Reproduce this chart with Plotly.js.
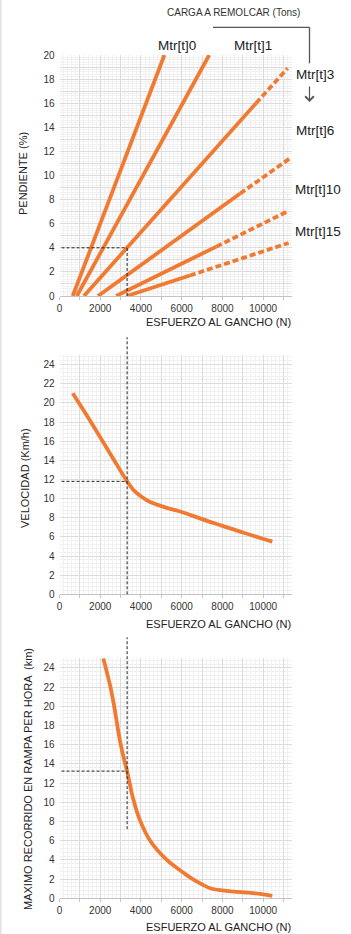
<!DOCTYPE html>
<html><head><meta charset="utf-8">
<script src="https://cdn.plot.ly/plotly-3.0.1.min.js"></script>
<style>html,body{margin:0;padding:0;background:#fff}#chart{width:351px;height:934px}</style>
</head><body><div id="chart"></div>
<script>
// ---------- DATA ----------
const gradeSeries = ['Mtr[t]0','Mtr[t]1','Mtr[t]3','Mtr[t]6','Mtr[t]10','Mtr[t]15'];
const gradeSolidX = [[650,5150],[850,7350],[1200,9650],[1890,8870],[2780,7700],[3300,6400]];
const gradeSolidY = [[0,20],[0,20],[0,16.0],[0,8.5],[0,4.1],[0,1.7]];
const gradeDashX  = [[],[],[9650,11200],[8870,11290],[7700,11170],[6400,11250]];
const gradeDashY  = [[],[],[16.0,18.9],[8.5,11.4],[4.1,7.0],[1.7,4.4]];

const speedX = [650,1600,2600,3320,3630,3960,4280,4610,5300,6000,7000,8000,9000,10450];
const speedY = [21.0,17.8,14.3,11.8,10.9,10.3,9.85,9.5,9.0,8.6,7.85,7.15,6.45,5.5];

const rangeX = [2150,2480,2650,2970,3190,3320,3600,3920,4450,5270,6000,6500,7000,7400,8000,8550,9500,10450];
const rangeY = [25,22.2,20.4,16.4,14.3,13.25,10.5,8.3,6.0,4.0,2.8,2.05,1.45,1.05,0.82,0.7,0.55,0.25];

const crossX = 3320;
const crossY = [4, 11.8, 13.25];

const xTickVals = [0,1000,2000,3000,4000,5000,6000,7000,8000,9000,10000,11000];
const xTickText = ['0','','2000','','4000','','6000','','8000','','10000',''];
const y1TickVals = [0,1,2,3,4,5,6,7,8,9,10,11,12,13,14,15,16,17,18,19,20];
const y1TickText = ['0','','2','','4','','6','','8','','10','','12','','14','','16','','18','','20'];
const y23TickVals = [0,2,4,6,8,10,12,14,16,18,20,22,24];

const titleCarga = 'CARGA A REMOLCAR (Tons)';
const xTitle = 'ESFUERZO AL GANCHO (N)';
const yTitles = ['PENDIENTE (%)','VELOCIDAD (Km/h)','MAXIMO RECORRIDO EN RAMPA PER HORA  (km)'];

// ---------- LAYOUT HELPERS ----------
const W = 351, H = 934;
const px = p => p / W;
const py = p => 1 - p / H;
const ORANGE = '#F07A32';
const FONT = 'Liberation Sans, Arial, sans-serif';
const xDom = [px(59.5), px(291.7)];
const yDoms = [[py(296), py(55)], [py(594.3), py(355)], [py(898.3), py(658.3)]];

function xAxis(dom, anchor) {
  return {domain: dom, anchor: anchor, range: [0, 11400], tickmode: 'array',
    tickvals: xTickVals, ticktext: xTickText, showgrid: true, gridcolor: '#dcdcdc', gridwidth: 1,
    minor: {tick0: 0, dtick: 200, showgrid: true, gridcolor: '#f1f1f1', gridwidth: 1},
    zeroline: false, showline: true, linecolor: '#c4c4c4', linewidth: 1,
    ticks: 'outside', ticklen: 3, tickcolor: '#c4c4c4',
    tickfont: {family: FONT, size: 10, color: '#333'}, fixedrange: true};
}
function yAxis(dom, anchor, rng, tv, tt, minorD) {
  return {domain: dom, anchor: anchor, range: rng, tickmode: 'array', tickvals: tv, ticktext: tt,
    showgrid: true, gridcolor: '#dcdcdc', gridwidth: 1,
    minor: {tick0: 0, dtick: minorD, showgrid: true, gridcolor: '#f1f1f1', gridwidth: 1},
    zeroline: false, showline: false, ticks: '', ticklabelstandoff: 4,
    tickfont: {family: FONT, size: 10, color: '#333'}, fixedrange: true};
}

// ---------- TRACES ----------
const traces = [];
gradeSeries.forEach((name, i) => {
  traces.push({x: gradeSolidX[i], y: gradeSolidY[i], xaxis: 'x', yaxis: 'y', mode: 'lines',
    name: name, line: {color: ORANGE, width: 3.8}, hoverinfo: 'skip'});
  if (gradeDashX[i].length) {
    traces.push({x: gradeDashX[i], y: gradeDashY[i], xaxis: 'x', yaxis: 'y', mode: 'lines',
      name: name, line: {color: ORANGE, width: 3.8, dash: '6px,3px'}, hoverinfo: 'skip'});
  }
});
traces.push({x: speedX, y: speedY, xaxis: 'x2', yaxis: 'y2', mode: 'lines',
  line: {color: ORANGE, width: 3.8, shape: 'spline', smoothing: 1}, hoverinfo: 'skip'});
traces.push({x: rangeX, y: rangeY, xaxis: 'x3', yaxis: 'y3', mode: 'lines',
  line: {color: ORANGE, width: 3.8, shape: 'spline', smoothing: 1}, hoverinfo: 'skip'});

// ---------- SHAPES ----------
const dashLine = {color: '#222', width: 1, dash: '3px,2px'};
const shapes = [
  {type: 'line', xref: 'x', yref: 'y', x0: 100, x1: crossX, y0: crossY[0], y1: crossY[0], line: dashLine},
  {type: 'line', xref: 'x', yref: 'y', x0: crossX, x1: crossX, y0: 0, y1: crossY[0], line: dashLine},
  {type: 'line', xref: 'x2', yref: 'y2', x0: 100, x1: crossX, y0: crossY[1], y1: crossY[1], line: dashLine},
  {type: 'line', xref: 'x2', yref: 'y2 domain', x0: crossX, x1: crossX, y0: 0, y1: (594.3 - 337.3) / 239.3, line: dashLine},
  {type: 'line', xref: 'x3', yref: 'y3', x0: 100, x1: crossX, y0: crossY[2], y1: crossY[2], line: dashLine},
  {type: 'line', xref: 'x3', yref: 'y3 domain', x0: crossX, x1: crossX, y0: 7.2 / 25, y1: (898.3 - 637.3) / 240, line: dashLine},
  // bracket
  {type: 'line', xref: 'paper', yref: 'paper', x0: px(213), x1: px(309.5), y0: py(27.3), y1: py(27.3), line: {color: '#555', width: 1.3}},
  {type: 'line', xref: 'paper', yref: 'paper', x0: px(309.5), x1: px(309.5), y0: py(27.3), y1: py(63.3), line: {color: '#555', width: 1.3}},
  // left page border
  {type: 'line', xref: 'paper', yref: 'paper', x0: px(0.8), x1: px(0.8), y0: 0, y1: 1, line: {color: '#e2e2e2', width: 1.6}}
];

// ---------- ANNOTATIONS ----------
const txt = (text, x, y, size, extra) => Object.assign({text: text, xref: 'paper', yref: 'paper',
  x: px(x), y: py(y), xanchor: 'center', yanchor: 'middle', showarrow: false,
  font: {family: FONT, size: size, color: '#222'}}, extra || {});
const labelPos = [[176.7, 45], [252.5, 45], [315, 75], [315, 130.7], [318.3, 189.3], [318.3, 231.7]];
const annotations = [
  txt(titleCarga, 233.7, 12.5, 10, {font: {family: FONT, size: 10, color: '#333'}}),
  ...gradeSeries.map((s, i) => txt(s, labelPos[i][0], labelPos[i][1], 13.5)),
  {text: '', xref: 'paper', yref: 'paper', x: px(309.5), y: py(102), ax: 0, ay: -17,
    showarrow: true, arrowhead: 4, arrowsize: 1.4, arrowwidth: 1.2, arrowcolor: '#555'},
  txt(xTitle, 293, 322, 11, {xanchor: 'right'}),
  txt(xTitle, 293, 623.5, 11, {xanchor: 'right'}),
  txt(xTitle, 293, 926.5, 11, {xanchor: 'right'}),
  txt(yTitles[0], 23, 174, 11, {textangle: -90}),
  txt(yTitles[1], 25, 478, 11, {textangle: -90}),
  txt(yTitles[2], 28, 779, 11, {textangle: -90})
];

const layout = {
  width: W, height: H, margin: {l: 0, r: 0, t: 0, b: 0},
  paper_bgcolor: '#fff', plot_bgcolor: '#fff', showlegend: false,
  font: {family: FONT, color: '#333'},
  xaxis: xAxis(xDom, 'y'), yaxis: yAxis(yDoms[0], 'x', [0, 20], y1TickVals, y1TickText, 0.2),
  xaxis2: xAxis(xDom, 'y2'), yaxis2: yAxis(yDoms[1], 'x2', [0, 25], y23TickVals, y23TickVals.map(String), 0.4),
  xaxis3: xAxis(xDom, 'y3'), yaxis3: yAxis(yDoms[2], 'x3', [0, 25], y23TickVals, y23TickVals.map(String), 0.4),
  shapes: shapes, annotations: annotations
};
Plotly.newPlot('chart', traces, layout, {staticPlot: true, displayModeBar: false});
</script></body></html>
